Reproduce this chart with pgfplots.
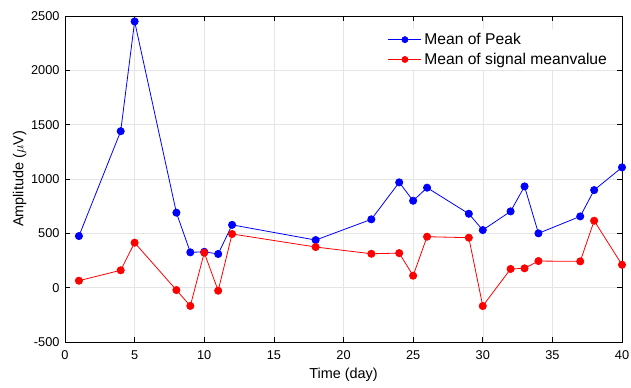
\documentclass[border=0pt]{standalone}
\usepackage{pgfplots}
\pgfplotsset{compat=1.18}
\usepackage{fontspec}
\setmainfont{Liberation Sans}
\begin{document}
\begin{tikzpicture}
\begin{axis}[
  scale only axis,
  width=557bp, height=326bp,
  xmin=0, xmax=40, ymin=-500, ymax=2500,
  xtick={0,5,...,40}, ytick={-500,0,...,2500},
  grid=major,
  major grid style={draw=black!10, line width=0.5bp},
  tick align=inside,
  major tick length=5bp,
  tick style={black, line width=0.6bp},
  axis line style={black, line width=0.8bp},
  /pgf/number format/assume math mode=true,
  /pgf/number format/set thousands separator={},
  ticklabel style={font=\fontsize{12.8}{14}\selectfont},
  xticklabel style={yshift=-5bp},
  yticklabel style={xshift=-2bp},
  label style={font=\fontsize{14.5}{16}\selectfont},
  xlabel={Time (day)},
  ylabel={Amplitude ($\mu$V)},
  xlabel style={yshift=-2bp},
  ylabel style={yshift=-2bp},
  legend style={at={(0.576,0.96)}, anchor=north west, draw=none, fill=white,
    font=\fontsize{15.7}{17}\selectfont, row sep=5bp, inner xsep=2bp, inner ysep=3bp,
    nodes={inner xsep=2.5bp, inner ysep=1bp}},
  legend cell align=left,
  legend image code/.code={
    \draw[#1, mark=none] (0bp,0bp) -- (33bp,0bp);
    \draw[#1, only marks, mark size=3bp] plot coordinates {(16.5bp,0bp)};
  },
]
\addplot[blue, line width=0.8bp, mark=*, mark size=3.6bp, mark options={fill=blue}] coordinates {
  (1,475) (4,1440) (5,2450) (8,690) (9,325) (10,330) (11,310) (12,578)
  (18,438) (22,629) (24,969) (25,800) (26,920) (29,680) (30,530)
  (32,702) (33,932) (34,500) (37,656) (38,898) (40,1107)
};
\addlegendentry{Mean of Peak}
\addplot[red, line width=0.8bp, mark=*, mark size=3.6bp, mark options={fill=red}] coordinates {
  (1,64) (4,160) (5,414) (8,-22) (9,-168) (10,322) (11,-28) (12,494)
  (18,374) (22,312) (24,318) (25,110) (26,469) (29,460) (30,-169)
  (32,172) (33,178) (34,245) (37,242) (38,616) (40,211)
};
\addlegendentry{Mean of signal meanvalue}
\end{axis}
\pgfresetboundingbox
\path[use as bounding box] ([shift={(-65bp,-46bp)}]current axis.south west) rectangle ([shift={(9bp,16bp)}]current axis.north east);
\end{tikzpicture}
\end{document}
